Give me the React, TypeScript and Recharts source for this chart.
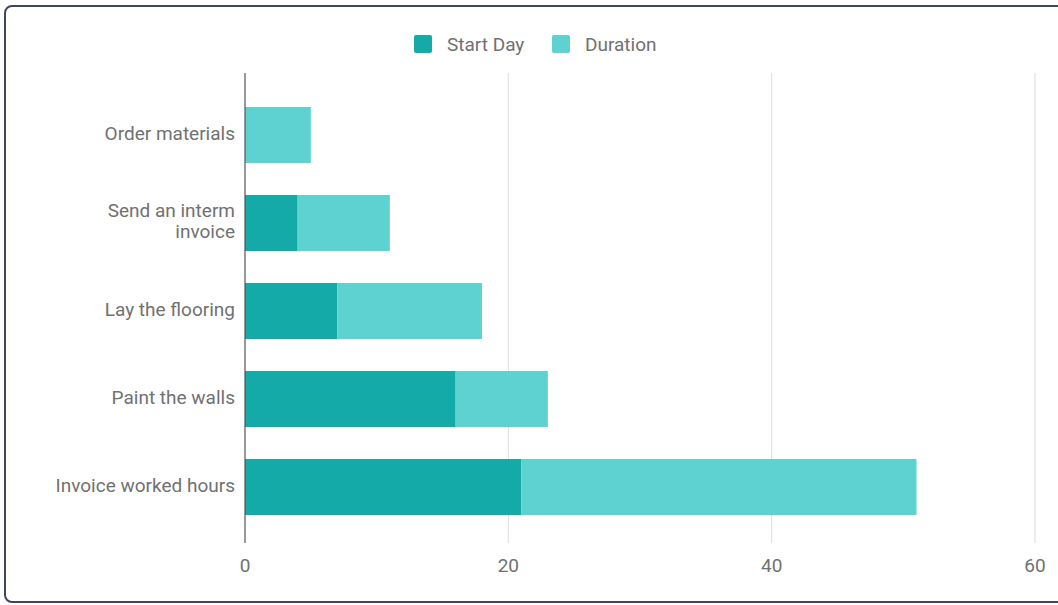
import { BarChart, Bar, XAxis, YAxis, CartesianGrid } from 'recharts';

const tasks = ['Order materials', 'Send an interm invoice', 'Lay the flooring', 'Paint the walls', 'Invoice worked hours'];
const startDay = [0, 4, 7, 16, 21];
const duration = [5, 7, 11, 7, 30];
const xTicks = [0, 20, 40, 60];

const START_COLOR = '#13aaa7';
const DURATION_COLOR = '#5dd2d0';
const TEXT_COLOR = '#717171';
const FONT = 'Roboto';

const data = tasks.map((task, i) => ({ task, start: startDay[i], duration: duration[i] }));

function splitLabel(label: string) {
  if (label.length <= 20) return [label];
  const idx = label.lastIndexOf(' ');
  return [label.slice(0, idx), label.slice(idx + 1)];
}

function TaskTick(props: any) {
  const { x, y, payload } = props;
  const lines = splitLabel(String(payload.value));
  const lineHeight = 21;
  const firstY = y - 2 - ((lines.length - 1) * lineHeight) / 2;
  return (
    <text x={x} y={firstY} textAnchor="end" fontSize={19} fill={TEXT_COLOR} fontFamily={FONT}>
      {lines.map((line, i) => (
        <tspan key={i} x={x} y={firstY + i * lineHeight} dy="0.355em">
          {line}
        </tspan>
      ))}
    </text>
  );
}

const legendItems = [
  { label: 'Start Day', color: START_COLOR, left: 414 },
  { label: 'Duration', color: DURATION_COLOR, left: 552 },
];

// frame sits 4px from the left and 5px from the top of the page
const FRAME_X = 4;
const FRAME_Y = 5;
const BORDER = 2;

export default function App() {
  return (
    <div
      style={{
        position: 'fixed',
        left: FRAME_X,
        top: FRAME_Y,
        width: 1070,
        height: 598,
        border: `${BORDER}px solid #3e4858`,
        borderRadius: 8,
        boxSizing: 'border-box',
        background: '#fff',
      }}
    >
      <div style={{ position: 'absolute', left: -(FRAME_X + BORDER), top: -(FRAME_Y + BORDER) }}>
        <BarChart
          width={1058}
          height={605}
          data={data}
          layout="vertical"
          margin={{ top: 73, right: 23, left: 0, bottom: 32 }}
          barSize={56}
        >
          <CartesianGrid horizontal={false} vertical stroke="#dcdcdc" />
          <XAxis
            type="number"
            domain={[0, 60]}
            ticks={xTicks}
            axisLine={false}
            tickLine={false}
            tickMargin={10}
            height={30}
            tick={{ fontSize: 19, fill: TEXT_COLOR, fontFamily: FONT }}
          />
          <YAxis
            type="category"
            dataKey="task"
            width={245}
            axisLine={{ stroke: '#444' }}
            tickLine={false}
            tickMargin={4}
            padding={{ top: 18, bottom: 12 }}
            tick={<TaskTick />}
          />
          <Bar dataKey="start" name="Start Day" stackId="a" fill={START_COLOR} isAnimationActive={false} />
          <Bar dataKey="duration" name="Duration" stackId="a" fill={DURATION_COLOR} isAnimationActive={false} />
        </BarChart>
        {legendItems.map((item) => (
          <div
            key={item.label}
            style={{
              position: 'absolute',
              left: item.left,
              top: 33,
              height: 22,
              display: 'flex',
              alignItems: 'center',
              fontFamily: FONT,
              fontSize: 19,
              color: TEXT_COLOR,
            }}
          >
            <span style={{ width: 18, height: 18, background: item.color, borderRadius: 2, marginRight: 15, display: 'inline-block' }} />
            <span>{item.label}</span>
          </div>
        ))}
      </div>
    </div>
  );
}
